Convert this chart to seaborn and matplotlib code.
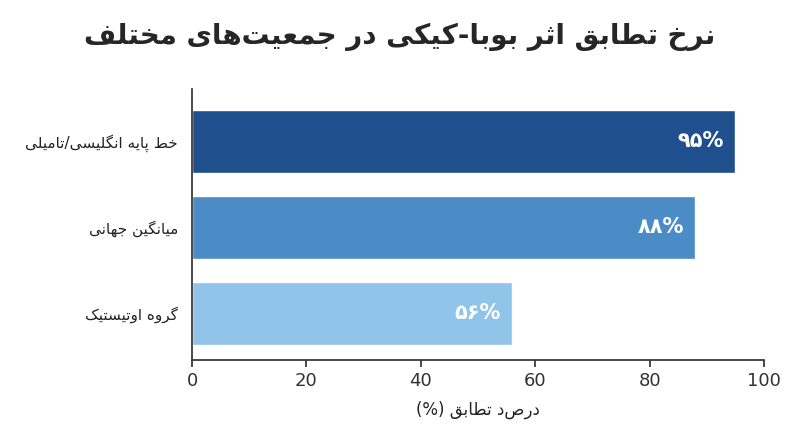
import matplotlib
matplotlib.use("Agg")
import matplotlib.pyplot as plt
import seaborn as sns
import pandas as pd

categories = ["خط پایه انگلیسی/تامیلی", "میانگین جهانی", "گروه اوتیستیک"]
values = [95, 88, 56]
value_labels = ["۹۵%", "۸۸%", "۵۶%"]
colors = ["#1f4f8c", "#4b8cc7", "#90c4e8"]
title = "نرخ تطابق اثر بوبا-کیکی در جمعیت‌های مختلف"
xlabel = "درصد تطابق (%)"

# minimal Persian shaper (iso, fin, ini, med)
F = {
 'ا': (0xFE8D, 0xFE8E), 'د': (0xFEA9, 0xFEAA), 'ذ': (0xFEAB, 0xFEAC), 'ر': (0xFEAD, 0xFEAE),
 'ز': (0xFEAF, 0xFEB0), 'و': (0xFEED, 0xFEEE),
 'ب': (0xFE8F, 0xFE90, 0xFE91, 0xFE92), 'ت': (0xFE95, 0xFE96, 0xFE97, 0xFE98),
 'ث': (0xFE99, 0xFE9A, 0xFE9B, 0xFE9C), 'ج': (0xFE9D, 0xFE9E, 0xFE9F, 0xFEA0),
 'خ': (0xFEA5, 0xFEA6, 0xFEA7, 0xFEA8), 'س': (0xFEB1, 0xFEB2, 0xFEB3, 0xFEB4),
 'ط': (0xFEC1, 0xFEC2, 0xFEC3, 0xFEC4), 'ع': (0xFEC9, 0xFECA, 0xFECB, 0xFECC),
 'ف': (0xFED1, 0xFED2, 0xFED3, 0xFED4), 'ق': (0xFED5, 0xFED6, 0xFED7, 0xFED8),
 'ل': (0xFEDD, 0xFEDE, 0xFEDF, 0xFEE0), 'م': (0xFEE1, 0xFEE2, 0xFEE3, 0xFEE4),
 'ن': (0xFEE5, 0xFEE6, 0xFEE7, 0xFEE8), 'ه': (0xFEE9, 0xFEEA, 0xFEEB, 0xFEEC),
 'ی': (0xFBFC, 0xFBFD, 0xFBFE, 0xFBFF), 'ک': (0xFB8E, 0xFB8F, 0xFB90, 0xFB91),
 'گ': (0xFB92, 0xFB93, 0xFB94, 0xFB95), 'پ': (0xFB56, 0xFB57, 0xFB58, 0xFB59),
}

def shape(s):
    out = []
    n = len(s)
    for i, c in enumerate(s):
        if c not in F:
            if c != '\u200c':
                out.append(c)
            continue
        p = s[i - 1] if i > 0 else ''
        nx = s[i + 1] if i + 1 < n else ''
        jp = p in F and len(F[p]) == 4
        jn = len(F[c]) == 4 and nx in F
        f = F[c]
        if jp and jn:
            g = f[3]
        elif jp:
            g = f[1]
        elif jn:
            g = f[2]
        else:
            g = f[0]
        out.append(chr(g))
    r = ''.join(reversed(out))
    return r.translate(str.maketrans('()', ')('))

sns.set_theme(style="white")
plt.rcParams['font.family'] = ['DejaVu Sans']

df = pd.DataFrame({"cat": [shape(c) for c in categories], "val": values})
fig, ax = plt.subplots(figsize=(8, 4.47), dpi=100)
sns.barplot(data=df, x="val", y="cat", hue="cat", palette=colors, legend=False,
            width=0.73, saturation=1, ax=ax)
for i, (v, lab) in enumerate(zip(values, value_labels)):
    ax.text(v - 2, i, lab, color="white", fontsize=15, fontweight="bold",
            ha="right", va="center")
ax.set_xlim(0, 100)
ax.set_ylim(2.54, -0.6)
ax.set_xticks([0, 20, 40, 60, 80, 100])
ax.set_ylabel("")
ax.set_xlabel(shape(xlabel), fontsize=12, labelpad=8, color="#222222")
ax.tick_params(axis="x", labelsize=13, bottom=True, length=5, colors="#333333")
ax.tick_params(axis="y", labelsize=11, length=0, pad=10)
for t in ax.get_yticklabels():
    t.set_color("#222222")
for s in ["top", "right"]:
    ax.spines[s].set_visible(False)
for s in ["left", "bottom"]:
    ax.spines[s].set_color("#333333")
fig.suptitle(shape(title), fontsize=20, fontweight="bold", x=0.5, y=0.95)
fig.subplots_adjust(left=0.24, right=0.955, top=0.80, bottom=0.195)
fig.savefig("out.png", dpi=100)
